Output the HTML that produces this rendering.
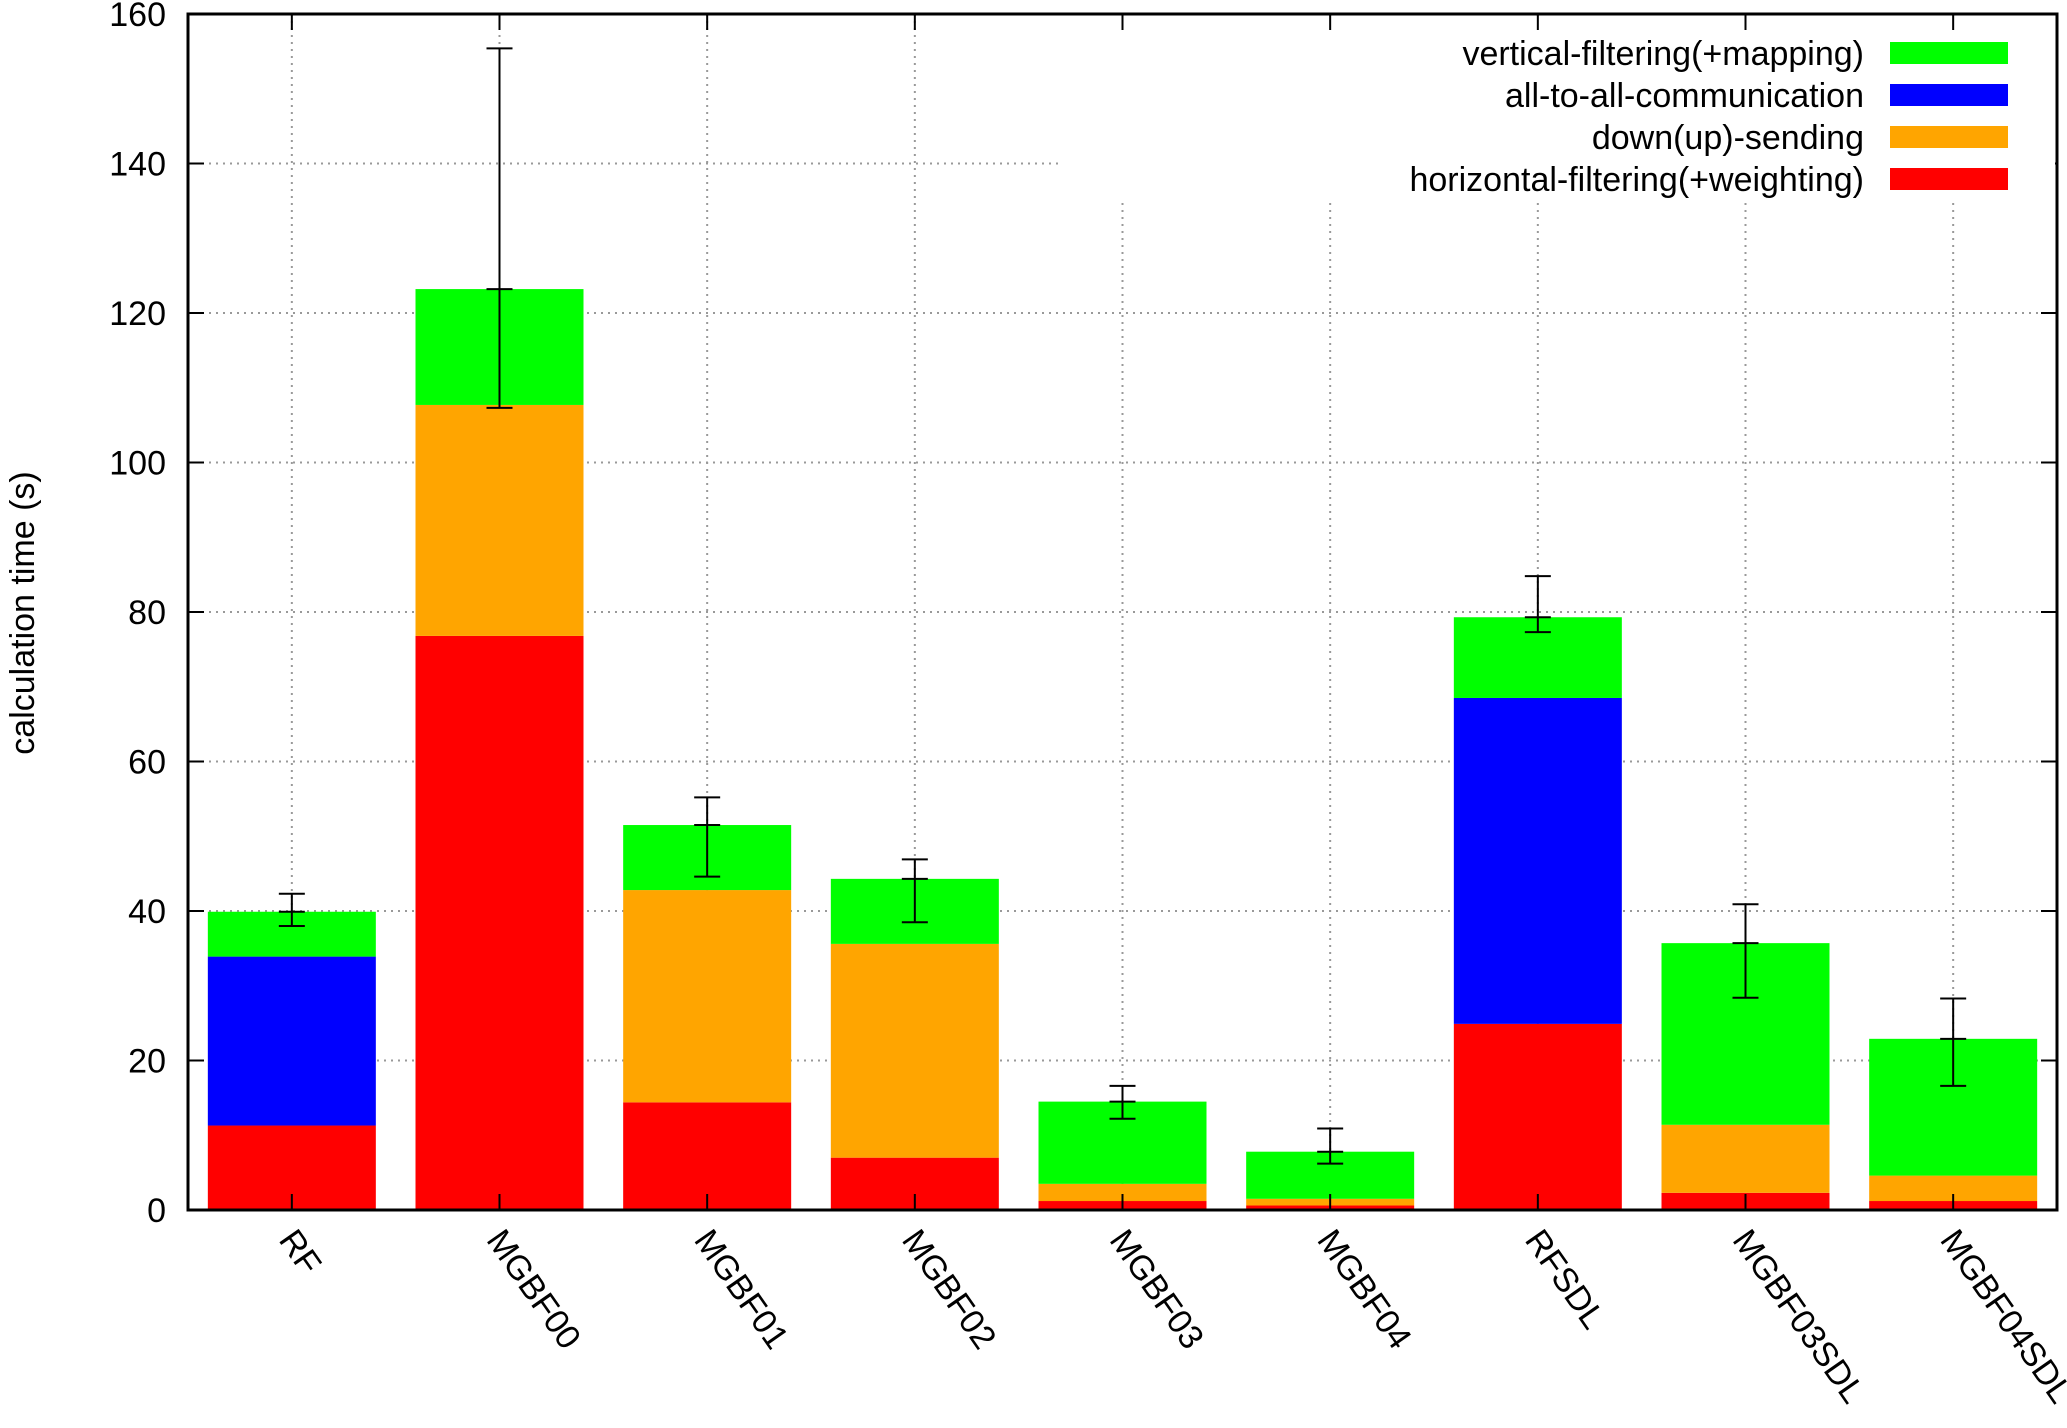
<!DOCTYPE html>
<html><head><meta charset="utf-8"><style>
body{margin:0;background:#fff}
svg{display:block;font-family:"Liberation Sans",sans-serif}
</style></head><body>
<svg id="chart" width="2067" height="1428" viewBox="0 0 2067 1428"></svg>
<script>
const categories=["RF","MGBF00","MGBF01","MGBF02","MGBF03","MGBF04","RFSDL","MGBF03SDL","MGBF04SDL"];
const horizontal=[11.3,76.8,14.4,7.0,1.2,0.6,24.9,2.3,1.2];
const downSending=[0,30.9,28.4,28.6,2.3,0.9,0,9.1,3.4];
const allToAll=[22.6,0,0,0,0,0,43.6,0,0];
const vertical=[6.0,15.5,8.7,8.7,11.0,6.3,10.8,24.3,18.3];
const errLow=[38.0,107.3,44.6,38.5,12.2,6.2,77.3,28.4,16.6];
const errHigh=[42.3,155.4,55.2,46.9,16.6,10.9,84.8,40.9,28.3];
const yTicks=[0,20,40,60,80,100,120,140,160];
const seriesNames=["horizontal-filtering(+weighting)","down(up)-sending","all-to-all-communication","vertical-filtering(+mapping)"];
const seriesColors=["#ff0000","#ffa500","#0000ff","#00ff00"];

const NS="http://www.w3.org/2000/svg";
const svg=document.getElementById("chart");
const L=188,R=2057,T=14,B=1210;
const y=v=>B-(v/160)*(B-T);
const step=(R-L)/categories.length;
const x=i=>L+step*(i+0.5);
const bw=168;
function mk(tag,attrs,parent){const e=document.createElementNS(NS,tag);for(const k in attrs)e.setAttribute(k,attrs[k]);(parent||svg).appendChild(e);return e;}

yTicks.forEach(t=>{
  const g=mk("line",{x1:L,x2:R,y1:y(t),y2:y(t),stroke:"#999","stroke-width":2,"stroke-dasharray":"2,5"});
  
  
  const lb=mk("text",{x:L-22,y:y(t)+12,"text-anchor":"end","font-size":34,fill:"#000"});
  lb.textContent=t;
  
  
  mk("line",{x1:L,x2:L+16,y1:y(t),y2:y(t),stroke:"#000","stroke-width":2});
  mk("line",{x1:R,x2:R-16,y1:y(t),y2:y(t),stroke:"#000","stroke-width":2});
});
categories.forEach((c,i)=>{
  const g=mk("line",{x1:x(i),x2:x(i),y1:T,y2:B,stroke:"#999","stroke-width":2,"stroke-dasharray":"2,5"});
  
  
});
const lgbg=mk("rect",{x:1062,y:T+2,width:R-1064,height:185,fill:"#fff"});



const stacks=[horizontal,downSending,allToAll,vertical];
categories.forEach((c,i)=>{
  let base=0;
  stacks.forEach((s,k)=>{
    const v=s[i]; if(!v) return;
    const r=mk("rect",{x:x(i)-bw/2,y:y(base+v),width:bw,height:y(base)-y(base+v),fill:seriesColors[k]});
    
    
    base+=v;
  });
  const total=base;
  const eb=mk("g",{stroke:"#000","stroke-width":2});
  
  
  mk("line",{x1:x(i),x2:x(i),y1:y(errLow[i]),y2:y(errHigh[i])},eb);
  [errLow[i],errHigh[i],total].forEach(v=>mk("line",{x1:x(i)-13,x2:x(i)+13,y1:y(v),y2:y(v)},eb));
  const lb=mk("text",{x:0,y:0,"font-size":34,fill:"#000",transform:`translate(${x(i)-14},${B+30}) rotate(55)`});
  lb.textContent=c;
  
  
  mk("line",{x1:x(i),x2:x(i),y1:B,y2:B-16,stroke:"#000","stroke-width":2});
  mk("line",{x1:x(i),x2:x(i),y1:T,y2:T+16,stroke:"#000","stroke-width":2});
});

const fr=mk("rect",{x:L,y:T,width:R-L,height:B-T,fill:"none",stroke:"#000","stroke-width":3});



const order=[3,2,1,0];
order.forEach((k,r)=>{
  const yy=53+r*42;
  const t=mk("text",{x:1864,y:yy+12,"text-anchor":"end","font-size":34,fill:"#000"});
  t.textContent=seriesNames[k];
  
  
  const s=mk("rect",{x:1890,y:yy-11,width:118,height:22,fill:seriesColors[k]});
  
  
});

const yt=mk("text",{x:0,y:0,"text-anchor":"middle","font-size":34,fill:"#000",transform:`translate(34,613) rotate(-90)`});
yt.textContent="calculation time (s)";


</script>
</body></html>
